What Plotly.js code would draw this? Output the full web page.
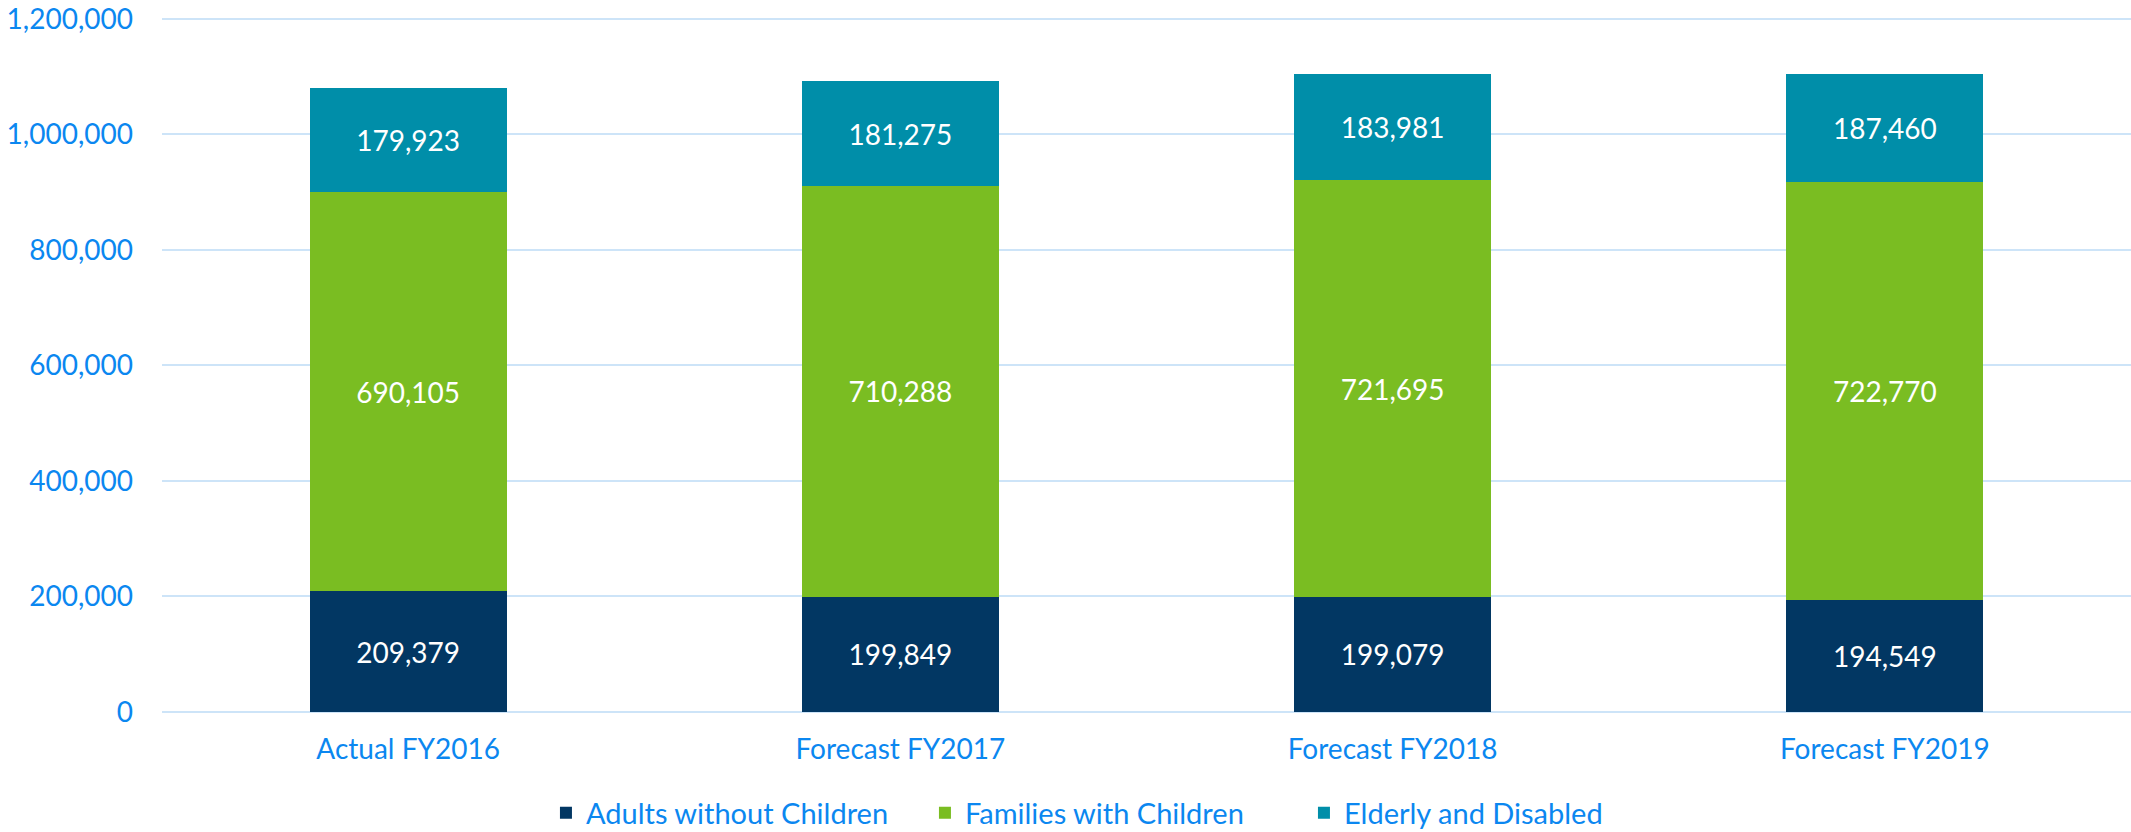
<!DOCTYPE html>
<html>
<head>
<meta charset="utf-8">
<script src="https://cdn.plot.ly/plotly-3.0.1.min.js"></script>
<style>html,body{margin:0;padding:0;background:#fff;}#chart{width:2131px;height:832px;}</style>
</head>
<body>
<div id="chart"></div>
<script>
const categories = ["Actual FY2016", "Forecast FY2017", "Forecast FY2018", "Forecast FY2019"];
const adultsWithoutChildren = [209379, 199849, 199079, 194549];
const familiesWithChildren = [690105, 710288, 721695, 722770];
const elderlyAndDisabled = [179923, 181275, 183981, 187460];
const seriesNames = ["Adults without Children", "Families with Children", "Elderly and Disabled"];
const yTickVals = [0, 200000, 400000, 600000, 800000, 1000000, 1200000];

const FONT = "Lato, 'Open Sans', sans-serif";
const BLUE = "#0b87f0";
const colors = ["#023763", "#7abd22", "#008ea9"];
const seriesData = [adultsWithoutChildren, familiesWithChildren, elderlyAndDisabled];

const traces = seriesData.map((vals, i) => ({
  type: "bar",
  name: seriesNames[i],
  x: categories,
  y: vals,
  marker: {color: colors[i], line: {width: 0}},
  width: 0.4,
  texttemplate: "%{y:,}",
  textposition: "inside",
  insidetextanchor: "middle",
  constraintext: "none",
  textangle: 0,
  textfont: {family: FONT, size: 28, color: "#ffffff"},
  hoverinfo: "skip"
}));

const layout = {
  width: 2131,
  height: 832,
  barmode: "stack",
  paper_bgcolor: "#ffffff",
  plot_bgcolor: "#ffffff",
  margin: {l: 162, r: 0, t: 17, b: 120, pad: 0, autoexpand: false},
  font: {family: FONT, size: 28, color: BLUE},
  showlegend: true,
  legend: {
    orientation: "h",
    x: 0.195, xanchor: "left",
    y: -0.145, yanchor: "middle",
    entrywidth: 334,
    entrywidthmode: "pixels",
    font: {family: FONT, size: 29, color: BLUE},
    traceorder: "normal",
    itemclick: false
  },
  xaxis: {
    type: "category",
    showgrid: false,
    showline: false,
    ticks: "",
    ticklabelstandoff: 18,
    tickfont: {family: FONT, size: 28, color: BLUE}
  },
  yaxis: {
    range: [0, 1203000],
    tickvals: yTickVals,
    tickformat: ",",
    ticklabeloverflow: "allow",
    showgrid: true,
    gridcolor: "#cde4f8",
    gridwidth: 2,
    zeroline: true,
    zerolinecolor: "#cde4f8",
    zerolinewidth: 2,
    showline: false,
    ticks: "",
    ticklabelstandoff: 28,
    tickfont: {family: FONT, size: 28, color: BLUE}
  }
};

Plotly.newPlot("chart", traces, layout, {displayModeBar: false, staticPlot: true});
</script>
</body>
</html>
